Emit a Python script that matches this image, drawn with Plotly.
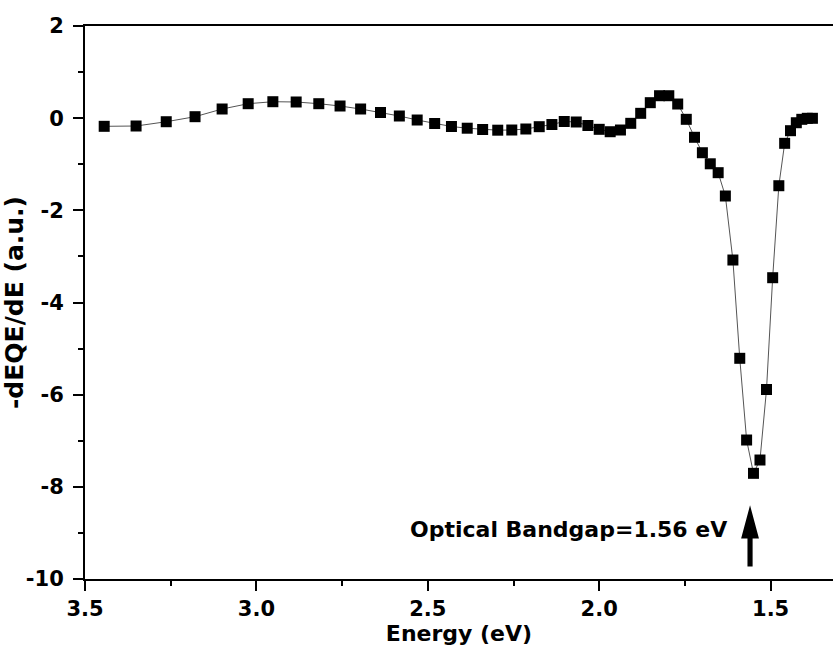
import plotly.graph_objects as go

# Photon energy (eV) of each measurement point
energy_ev = [
    3.444, 3.351, 3.263, 3.179, 3.100, 3.024, 2.952, 2.884, 2.818, 2.756,
    2.696, 2.638, 2.583, 2.531, 2.480, 2.431, 2.385, 2.340, 2.296, 2.255,
    2.214, 2.175, 2.138, 2.102, 2.067, 2.033, 2.000, 1.968, 1.938, 1.908,
    1.879, 1.851, 1.824, 1.797, 1.771, 1.746, 1.722, 1.699, 1.676, 1.653,
    1.632, 1.610, 1.590, 1.570, 1.550, 1.531, 1.512, 1.494, 1.476, 1.459,
    1.442, 1.425, 1.409, 1.393, 1.378,
]

# Negative derivative of the external quantum efficiency (a.u.)
neg_deqe_de = [
    -0.177, -0.170, -0.077, 0.032, 0.199, 0.314, 0.357, 0.351, 0.314, 0.264,
    0.199, 0.123, 0.047, -0.040, -0.116, -0.181, -0.218, -0.246, -0.261, -0.257,
    -0.235, -0.185, -0.138, -0.072, -0.083, -0.159, -0.242, -0.294, -0.257, -0.112,
    0.105, 0.336, 0.487, 0.487, 0.307, -0.025, -0.415, -0.750, -0.990, -1.183,
    -1.689, -3.078, -5.211, -6.984, -7.707, -7.418, -5.888, -3.462, -1.466, -0.546,
    -0.272, -0.099, -0.025, -0.003, -0.003,
]

x_ticks = [3.5, 3.0, 2.5, 2.0, 1.5]
y_ticks = [2, 0, -2, -4, -6, -8, -10]
bandgap_ev = 1.56

FONT = "DejaVu Sans"

fig = go.Figure()
fig.add_trace(go.Scatter(
    x=energy_ev,
    y=neg_deqe_de,
    mode="lines+markers",
    line=dict(color="#555555", width=1),
    marker=dict(symbol="square", size=11, color="black", line=dict(width=0)),
    showlegend=False,
))

# Arrow marking the optical bandgap: shaft plus a slender triangular head
shaft_half = 0.0075
head_half = 0.026
tip_y, base_y, tail_y = -8.40, -9.12, -9.73
arrow_path = (
    f"M {bandgap_ev - shaft_half},{tail_y} "
    f"L {bandgap_ev - shaft_half},{base_y} "
    f"L {bandgap_ev - head_half},{base_y} "
    f"L {bandgap_ev},{tip_y} "
    f"L {bandgap_ev + head_half},{base_y} "
    f"L {bandgap_ev + shaft_half},{base_y} "
    f"L {bandgap_ev + shaft_half},{tail_y} Z"
)
fig.add_shape(type="path", path=arrow_path, xref="x", yref="y",
              fillcolor="black", line=dict(width=0))

fig.add_annotation(
    x=1.621, y=-8.92, xref="x", yref="y",
    text=f"<b>Optical Bandgap={bandgap_ev:.2f} eV</b>",
    showarrow=False, xanchor="right", yanchor="middle",
    font=dict(family=FONT, size=22, color="black"),
)

fig.update_layout(
    width=833, height=657,
    margin=dict(l=85, r=0, t=26, b=78),
    paper_bgcolor="white", plot_bgcolor="white",
    font=dict(family=FONT, color="black"),
)

fig.update_xaxes(
    range=[3.5, 1.318],
    tickvals=x_ticks,
    ticktext=[f"<b>{v:.1f}</b>" for v in x_ticks],
    ticks="outside", ticklen=10, tickwidth=2, tickcolor="black",
    minor=dict(dtick=0.25, ticks="outside", ticklen=5, tickwidth=2, tickcolor="black"),
    showline=True, linewidth=2, linecolor="black", mirror=True,
    showgrid=False, zeroline=False,
    tickfont=dict(family=FONT, size=21, color="black"),
    title=dict(text="<b>Energy (eV)</b>", standoff=5,
               font=dict(family=FONT, size=22, color="black")),
)

fig.update_yaxes(
    range=[-10, 2],
    tickvals=y_ticks,
    ticktext=[f"<b>{v}</b>" for v in y_ticks],
    ticks="outside", ticklen=10, tickwidth=2, tickcolor="black",
    minor=dict(dtick=1, ticks="outside", ticklen=5, tickwidth=2, tickcolor="black"),
    showline=True, linewidth=2, linecolor="black", mirror=False,
    showgrid=False, zeroline=False,
    ticklabelstandoff=5,
    tickfont=dict(family=FONT, size=21, color="black"),
    title=dict(text="<b>-dEQE/dE (a.u.)</b>", standoff=6,
               font=dict(family=FONT, size=25, color="black")),
)

fig.write_html("out.html")
